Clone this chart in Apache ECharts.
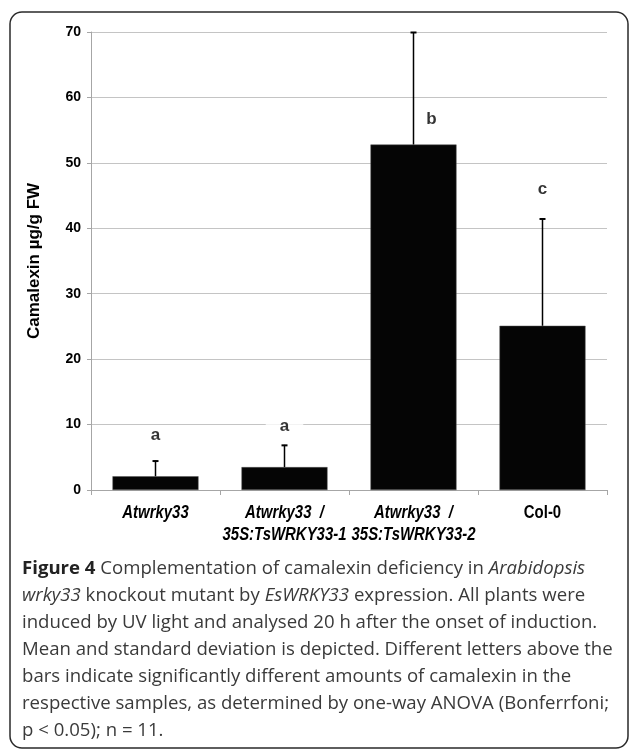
<!DOCTYPE html>
<html>
<head>
<meta charset="utf-8">
<script src="https://cdn.jsdelivr.net/npm/echarts@6/dist/echarts.min.js"></script>
<style>
html,body{margin:0;padding:0;background:#fff;}
#c{width:629px;height:749px;}
</style>
</head>
<body>
<div id="c"></div>
<script>
// ---- data ----
const categories = ['Atwrky33', 'Atwrky33  /\n35S:TsWRKY33-1', 'Atwrky33  /\n35S:TsWRKY33-2', 'Col-0'];
const italicLabel = [true, true, true, false];
const means = [2.1, 3.5, 52.8, 25.1];
const sds = [2.4, 3.4, 17.2, 16.4];
const letters = ['a', 'a', 'b', 'c'];
const letterY = [8.3, 9.7, 56.7, 46.0];
const yTicks = [0, 10, 20, 30, 40, 50, 60, 70];
const yTitle = 'Camalexin µg/g FW';
const captionLines = [
  '{b|Figure 4} Complementation of camalexin deficiency in {i|Arabidopsis}',
  '{i|wrky33} knockout mutant by {i|EsWRKY33} expression. All plants were',
  'induced by UV light and analysed 20 h after the onset of induction.',
  'Mean and standard deviation is depicted. Different letters above the',
  'bars indicate significantly different amounts of camalexin in the',
  'respective samples, as determined by one-way ANOVA (Bonferrfoni;',
  'p < 0.05); n = 11.'
];

const arial = '"Liberation Sans", Arial, sans-serif';
const chart = echarts.init(document.getElementById('c'));

chart.setOption({
  animation: false,
  backgroundColor: '#fff',
  grid: {left: 91, right: 22, top: 32, bottom: 259, containLabel: false},
  xAxis: {
    type: 'category',
    data: categories,
    axisLine: {lineStyle: {color: '#a6a6a6', width: 1}},
    axisTick: {show: true, length: 5, lineStyle: {color: '#a6a6a6'}},
    axisLabel: {show: false}
  },
  yAxis: {
    type: 'value',
    min: 0, max: 70, interval: 10,
    name: yTitle,
    nameLocation: 'middle',
    nameRotate: 90,
    nameGap: 48,
    nameTextStyle: {fontFamily: arial, fontWeight: 'bold', fontSize: 17, color: '#000'},
    axisLine: {show: true, lineStyle: {color: '#a6a6a6', width: 1}},
    axisTick: {show: true, length: 4, lineStyle: {color: '#a6a6a6'}},
    axisLabel: {
      margin: 10,
      formatter: v => yTicks.includes(v) ? String(v) : '',
      fontFamily: arial, fontWeight: 'bold', fontSize: 14, color: '#000'
    },
    splitLine: {lineStyle: {color: '#c4c4c4', width: 1}}
  },
  series: [
    {
      type: 'bar',
      data: means,
      barWidth: '66.7%',
      itemStyle: {color: '#050505', borderColor: '#555', borderWidth: 0.5},
      z: 2
    },
    {
      type: 'custom',
      data: means.map((m, i) => [i, m, m + sds[i]]),
      z: 3,
      renderItem: function (params, api) {
        const p0 = api.coord([api.value(0), api.value(1)]);
        const p1 = api.coord([api.value(0), api.value(2)]);
        return {
          type: 'group',
          children: [
            {type: 'line', shape: {x1: p0[0], y1: p0[1], x2: p1[0], y2: p1[1]}, style: {stroke: '#000', lineWidth: 1.5}},
            {type: 'line', shape: {x1: p1[0] - 3, y1: p1[1] + 0.5, x2: p1[0] + 3, y2: p1[1] + 0.5}, style: {stroke: '#000', lineWidth: 2}}
          ]
        };
      }
    },
    {
      // category labels under the x axis (narrow bold type)
      type: 'custom',
      clip: false,
      silent: true,
      z: 5,
      data: categories.map((c, i) => [i, 0]),
      renderItem: function (params, api) {
        const i = api.value(0);
        const p = api.coord([i, 0]);
        const lines = categories[i].split('\n');
        const font = (italicLabel[i] ? 'italic ' : '') + 'bold 18px ' + arial;
        return {
          type: 'group',
          children: lines.map((s, k) => ({
            type: 'text',
            x: p[0], y: p[1] + 23 + k * 22,
            scaleX: 0.83,
            style: {text: s, font: font, fill: '#000', textAlign: 'center', textVerticalAlign: 'middle'}
          }))
        };
      }
    },
    {
      type: 'scatter',
      symbolSize: 0,
      z: 4,
      data: letters.map((l, i) => ({
        value: [i, letterY[i]],
        label: {
          show: true,
          position: 'inside',
          formatter: l,
          color: '#000',
          textBorderWidth: 0,
          offset: i === 2 ? [18, 0] : [0, 0],
          backgroundColor: i < 2 ? '#fff' : 'transparent',
          padding: i < 2 ? [2, 14] : 0
        }
      })),
      label: {fontFamily: arial, fontWeight: 'bold', fontSize: 17, color: '#000', textBorderWidth: 0},
      emphasis: {disabled: true}
    }
  ],
  graphic: [
    {
      type: 'rect',
      shape: {x: 10, y: 12, width: 618, height: 736, r: 12},
      style: {fill: 'none', stroke: '#2a2a2a', lineWidth: 1.5},
      silent: true
    },
    {
      type: 'text',
      x: 22, y: 555,
      style: {
        text: captionLines.join('\n'),
        font: '18.6px "Open Sans", sans-serif',
        fill: '#3a3a3a',
        lineHeight: 27,
        rich: {
          b: {fontFamily: '"Open Sans", sans-serif', fontWeight: 'bold', fontSize: 18.6, fill: '#222', lineHeight: 27},
          i: {fontFamily: '"Open Sans", sans-serif', fontStyle: 'italic', fontSize: 18.6, fill: '#3a3a3a', lineHeight: 27}
        }
      },
      silent: true
    }
  ]
});
</script>
</body>
</html>
